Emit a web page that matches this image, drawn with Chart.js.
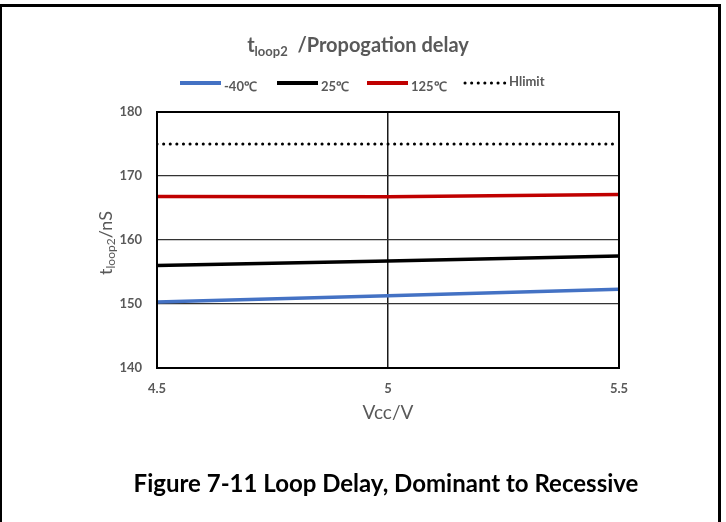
<!DOCTYPE html>
<html>
<head>
<meta charset="utf-8">
<script src="https://cdn.jsdelivr.net/npm/chart.js@4/dist/chart.umd.min.js"></script>
<style>
  html, body { margin: 0; padding: 0; background: #fff; }
  #wrap { position: relative; width: 726px; height: 522px; }
</style>
</head>
<body>
<div id="wrap"><canvas id="loopChart" width="726" height="522"></canvas></div>
<script>
// chart data
var vccValues = [4.5, 5, 5.5];
var seriesNames = ['-40\u2103', '25\u2103', '125\u2103', 'Hlimit'];
var tempM40 = [150.3, 151.3, 152.3];
var temp25 = [156.0, 156.7, 157.5];
var temp125 = [166.8, 166.75, 167.1];
var hLimit = [175, 175, 175];
var yTicks = [140, 150, 160, 170, 180];
var xTicks = [4.5, 5, 5.5];

var FONT = 'Lato, "Open Sans", sans-serif';
var GREY = '#595959';

function pts(ys) {
    return vccValues.map(function (x, i) { return {x: x, y: ys[i]}; });
}

// frame, titles, legend and caption
var decor = {
    id: 'decor',
    beforeDraw: function (chart) {
        var ctx = chart.ctx;
        ctx.save();
        ctx.fillStyle = '#fff';
        ctx.fillRect(0, 0, chart.width, chart.height);
        ctx.fillStyle = '#000';
        ctx.fillRect(0, 4, 721, 3);
        ctx.fillRect(0, 4, 2, 518);
        ctx.fillRect(718, 4, 3, 518);
        ctx.restore();
    },
    afterDraw: function (chart) {
        var ctx = chart.ctx;
        var a = chart.chartArea;
        ctx.save();
        // plot frame
        ctx.strokeStyle = '#000';
        ctx.lineWidth = 2;
        ctx.strokeRect(a.left, a.top, a.right - a.left, a.bottom - a.top);

        // title with subscript
        ctx.fillStyle = GREY;
        ctx.textBaseline = 'alphabetic';
        ctx.textAlign = 'left';
        var big = 'bold 20px ' + FONT, small = 'bold 13px ' + FONT;
        ctx.font = big; var w1 = ctx.measureText('t').width;
        ctx.font = small; var w2 = ctx.measureText('loop2').width;
        ctx.font = big; var w3 = ctx.measureText('  /Propogation delay').width;
        var tx = 358 - (w1 + w2 + w3) / 2, ty = 52;
        ctx.font = big; ctx.fillText('t', tx, ty);
        ctx.font = small; ctx.fillText('loop2', tx + w1, ty + 4);
        ctx.font = big; ctx.fillText('  /Propogation delay', tx + w1 + w2, ty);

        // legend
        var items = chart.data.datasets;
        var lx = [180, 277, 367, 465];
        ctx.font = 'bold 13px ' + FONT;
        items.forEach(function (ds, i) {
            ctx.beginPath();
            ctx.strokeStyle = ds.borderColor;
            ctx.lineWidth = ds.borderDash ? 3 : 4;
            ctx.setLineDash(ds.borderDash || []);
            ctx.lineCap = ds.borderDash ? 'round' : 'butt';
            ctx.moveTo(lx[i], 83);
            ctx.lineTo(lx[i] + 41, 83);
            ctx.stroke();
            ctx.setLineDash([]);
            ctx.fillStyle = GREY;
            ctx.fillText(ds.label, lx[i] + 44, i === 3 ? 86 : 91);
        });

        // y axis title, rotated, with subscript
        ctx.save();
        ctx.translate(112, 243);
        ctx.rotate(-Math.PI / 2);
        var f1 = '18px ' + FONT, f2 = '12px ' + FONT;
        ctx.font = f1; var a1 = ctx.measureText('t').width, a3 = ctx.measureText('/nS').width;
        ctx.font = f2; var a2 = ctx.measureText('loop2').width;
        var sx = -(a1 + a2 + a3) / 2;
        ctx.font = f1; ctx.fillText('t', sx, 0);
        ctx.font = f2; ctx.fillText('loop2', sx + a1, 3);
        ctx.font = f1; ctx.fillText('/nS', sx + a1 + a2, 0);
        ctx.restore();

        // x axis title
        ctx.textAlign = 'center';
        ctx.font = '19px ' + FONT;
        ctx.fillText('Vcc/V', (a.left + a.right) / 2, 419);

        // caption
        ctx.fillStyle = '#000';
        ctx.font = 'bold 24px ' + FONT;
        ctx.fillText('Figure 7-11 Loop Delay, Dominant to Recessive', 386, 492);
        ctx.restore();
    }
};

new Chart(document.getElementById('loopChart').getContext('2d'), {
    type: 'line',
    data: {
        datasets: [
            {label: seriesNames[0], data: pts(tempM40), borderColor: '#4472C4', borderWidth: 3.5},
            {label: seriesNames[1], data: pts(temp25), borderColor: '#000000', borderWidth: 3.5},
            {label: seriesNames[2], data: pts(temp125), borderColor: '#C00000', borderWidth: 3.5},
            {label: seriesNames[3], data: pts(hLimit), borderColor: '#000000', borderWidth: 3,
                borderDash: [0.1, 6.5], borderCapStyle: 'round'}
        ]
    },
    options: {
        responsive: false,
        animation: false,
        layout: {padding: {left: 0, top: 112, right: 107, bottom: 0}},
        elements: {point: {radius: 0}, line: {tension: 0}},
        plugins: {legend: {display: false}, title: {display: false}, tooltip: {enabled: false}},
        scales: {
            x: {
                type: 'linear', min: 4.5, max: 5.5,
                afterBuildTicks: function (s) { s.ticks = xTicks.map(function (v) { return {value: v}; }); },
                afterFit: function (s) { s.height = 154; },
                grid: {color: '#1a1a1a', lineWidth: 1.5, drawTicks: false},
                border: {display: false},
                ticks: {padding: 13, color: GREY, font: {family: FONT, size: 13, weight: 'bold'},
                    maxRotation: 0, callback: function (v) { return String(v); }}
            },
            y: {
                min: 140, max: 180,
                afterBuildTicks: function (s) { s.ticks = yTicks.map(function (v) { return {value: v}; }); },
                afterFit: function (s) { s.width = 157; },
                grid: {color: '#333333', lineWidth: 1.2, drawTicks: false},
                border: {display: false},
                ticks: {padding: 15, color: GREY, font: {family: FONT, size: 13, weight: 'bold'}}
            }
        }
    },
    plugins: [decor]
});
</script>
</body>
</html>
